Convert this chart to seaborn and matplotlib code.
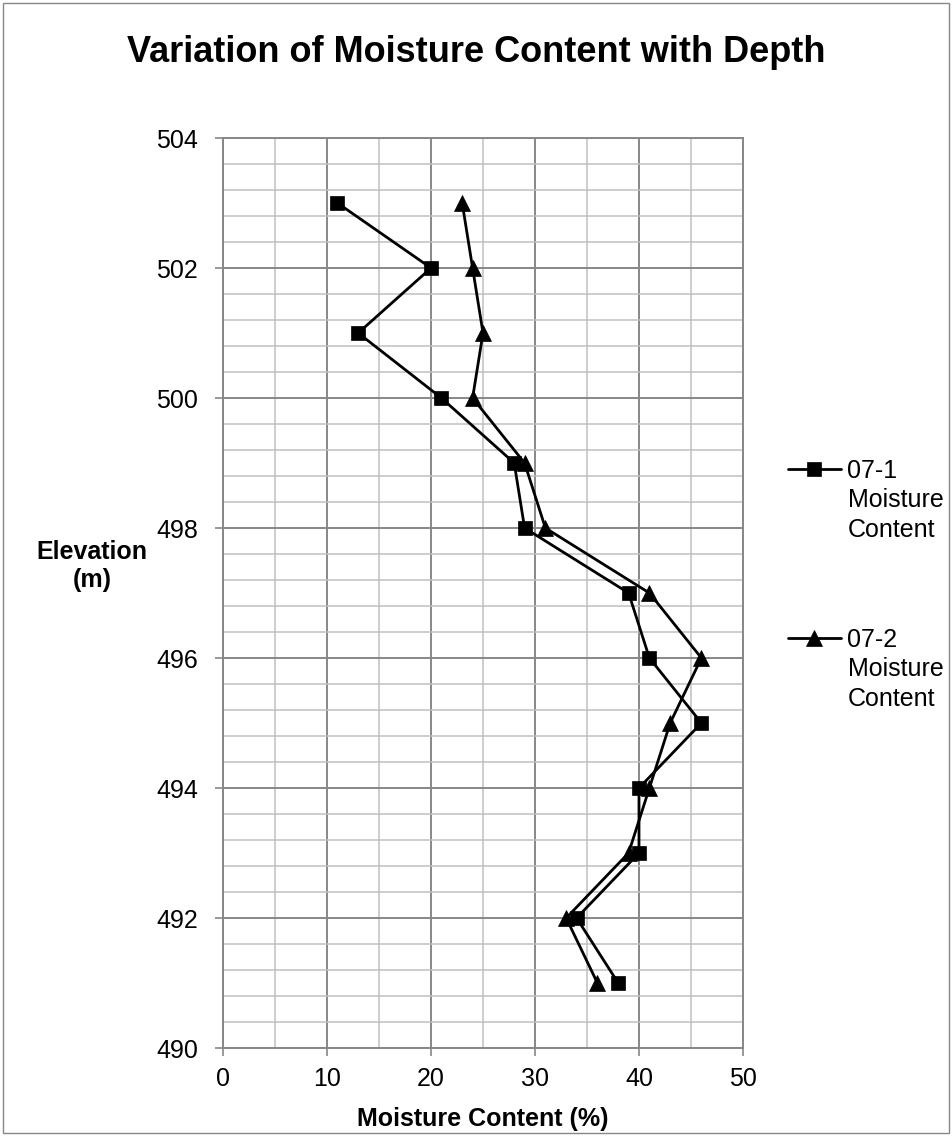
import numpy as np
import pandas as pd
import seaborn as sns
import matplotlib.pyplot as plt
from matplotlib.ticker import MultipleLocator
from matplotlib.patches import Rectangle

# Valores
elevation = [503, 502, 501, 500, 499, 498, 497, 496, 495, 494, 493, 492, 491]
moisture_07_1 = [11, 20, 13, 21, 28, 29, 39, 41, 46, 40, 40, 34, 38]
moisture_07_2 = [23, 24, 25, 24, 29, 31, 41, 46, 43, 41, 39, 33, 36]
series_names = ['07-1', '07-2']
x_ticks = [0, 10, 20, 30, 40, 50]
y_ticks = [490, 492, 494, 496, 498, 500, 502, 504]

sns.set_style('white')
plt.rcParams['font.family'] = ['Liberation Sans', 'DejaVu Sans']
plt.rcParams['text.color'] = 'black'
plt.rcParams['axes.labelcolor'] = 'black'

W, H = 952, 1136
fig = plt.figure(figsize=(W / 100, H / 100), dpi=100)
ax = fig.add_axes([223 / W, 1 - 1048 / H, (743 - 223) / W, (1048 - 138) / H])

df1 = pd.DataFrame({'Moisture': moisture_07_1, 'Elevation': elevation})
df2 = pd.DataFrame({'Moisture': moisture_07_2, 'Elevation': elevation})

# Série 07-1 (quadrados)
sns.lineplot(data=df1, x='Moisture', y='Elevation', sort=False, estimator=None,
             color='black', marker='s', markersize=9.5, markeredgecolor='black',
             markeredgewidth=0.5, linewidth=2, label=series_names[0], ax=ax, zorder=3)
# Série 07-2 (triângulos)
sns.lineplot(data=df2, x='Moisture', y='Elevation', sort=False, estimator=None,
             color='black', marker='^', markersize=11.5, markeredgecolor='black',
             markeredgewidth=0.5, linewidth=2, label=series_names[1], ax=ax, zorder=3)

# Eixos
ax.set_xlim(0, 50)
ax.set_ylim(490, 504)
ax.set_xticks(x_ticks)
ax.set_yticks(y_ticks)
ax.xaxis.set_minor_locator(MultipleLocator(5))
ax.yaxis.set_minor_locator(MultipleLocator(0.4))
ax.set_axisbelow(True)
ax.grid(which='major', color='#878787', linewidth=1.4)
ax.grid(which='minor', color='#c0c0c0', linewidth=1.1)
ax.tick_params(which='major', bottom=True, left=True, direction='out', length=5.8,
               width=1.2, color='#878787', labelcolor='black', labelsize=18)
ax.tick_params(axis='y', which='major', pad=12)
ax.tick_params(axis='x', which='major', pad=8)
ax.tick_params(which='minor', length=0)
for s in ax.spines.values():
    s.set_color('#878787')
    s.set_linewidth(1.4)

# Rótulos
ax.set_xlabel('Moisture Content (%)', fontsize=18, fontweight='bold', va='center')
ax.xaxis.set_label_coords(0.5, -0.078)
ax.set_ylabel('Elevation\n(m)', fontsize=18, fontweight='bold', rotation=0,
              ha='center', va='center', multialignment='center')
ax.yaxis.set_label_coords(-0.252, 0.53)

fig.text(0.5, 1 - 52 / H, 'Variation of Moisture Content with Depth', ha='center',
         va='center', fontsize=26, fontweight='bold')

# Legenda
handles, labels = ax.get_legend_handles_labels()
leg = ax.legend(handles, labels, loc='upper left', bbox_to_anchor=(788 / W, 1 - 459 / H),
                bbox_transform=fig.transFigure, frameon=False, fontsize=18,
                handlelength=2.1, handletextpad=0.28, labelspacing=5.8,
                borderpad=0, borderaxespad=0)
for t in leg.get_texts():
    ax.annotate('Moisture\nContent', xy=(0, 0), xycoords=t, xytext=(0, -3.5),
                textcoords='offset points', ha='left', va='top', fontsize=18,
                linespacing=1.3, zorder=6, annotation_clip=False)

# Borda da área do gráfico
fig.patches.append(Rectangle((3 / W, 3 / H), 946 / W, 1130 / H, transform=fig.transFigure,
                             fill=False, edgecolor='#878787', linewidth=1))

fig.savefig('out.png', dpi=100)
